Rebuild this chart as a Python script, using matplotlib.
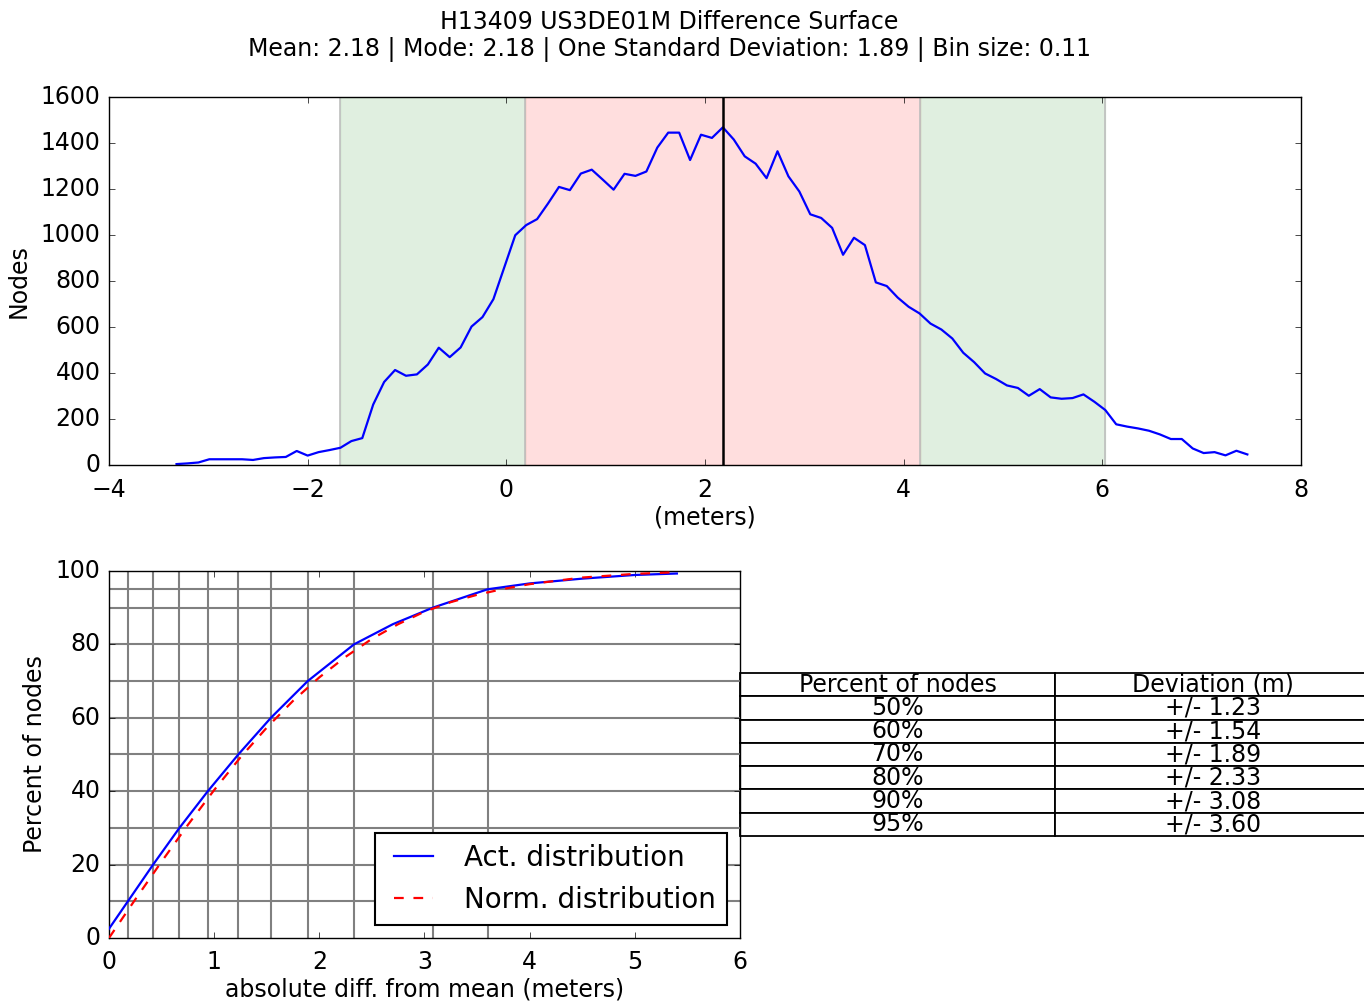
import numpy as np
import matplotlib
matplotlib.use("Agg")
import matplotlib.pyplot as plt

plt.style.use("classic")

# histogram of the difference surface (node counts per 0.11 m bin)
bin_start = -3.32
bin_size = 0.11
node_counts = [4, 7, 11, 25, 25, 25, 25, 22, 30, 33, 35, 61, 41, 56, 65, 75,
               104, 117, 263, 361, 413, 388, 394, 437, 510, 469, 511, 602, 643,
               721, 860, 999,
               1043, 1069, 1137, 1209, 1195, 1267, 1284, 1241, 1197, 1266, 1257,
               1276, 1380, 1445, 1445, 1326, 1436, 1422, 1468, 1415, 1342, 1310,
               1247, 1364, 1255, 1189, 1090, 1074, 1031, 914, 988, 956, 794, 778,
               728, 688, 659,
               615, 589, 550, 488, 447, 398, 374, 346, 335, 301, 330, 294, 288,
               291, 307, 275, 239, 177, 167, 159, 149, 133, 113, 113, 72, 52, 56,
               42, 62, 46]
mean = 2.18
mode = 2.18
std = 1.89
inner_band = (0.19, 4.16)
outer_band = (-1.67, 6.03)

# cumulative percent of nodes vs absolute deviation from mean
act_dev = [0, 0.18, 0.42, 0.67, 0.94, 1.23, 1.54, 1.89, 2.33, 2.7, 3.08, 3.60,
           4.0, 4.5, 5.0, 5.4]
act_pct = [2.5, 10, 20, 30, 40, 50, 60, 70, 80, 85.5, 90, 95,
           96.6, 97.9, 98.9, 99.3]
norm_dev = [0, 0.1, 0.25, 0.5, 0.75, 1.0, 1.25, 1.5, 1.75, 2.0, 2.25, 2.5,
            2.75, 3.0, 3.25, 3.5, 3.75, 4.0, 4.5, 5.0, 5.35]
norm_pct = [0, 4.2, 10.5, 20.8, 30.8, 40.3, 49.2, 57.3, 64.6, 71.0, 76.6, 81.5,
            85.5, 88.9, 91.5, 93.5, 95.1, 96.4, 98.2, 99.2, 99.6]

percent_levels = [50, 60, 70, 80, 90, 95]
deviation_levels = [1.23, 1.54, 1.89, 2.33, 3.08, 3.60]
grid_pct = [10, 20, 30, 40, 50, 60, 70, 80, 90, 95]
grid_dev = [0.18, 0.42, 0.67, 0.94, 1.23, 1.54, 1.89, 2.33, 3.08, 3.60]

fs = 17

fig = plt.figure(figsize=(13.64, 10.05), dpi=100, facecolor="white")

fig.suptitle("H13409 US3DE01M Difference Surface\n"
             "Mean: %.2f | Mode: %.2f | One Standard Deviation: %.2f | Bin size: %.2f"
             % (mean, mode, std, bin_size),
             x=0.4908, y=0.990, va="top", fontsize=fs, linespacing=1.15)

# ---- top: histogram line with std bands
ax1 = fig.add_axes([0.0799, 0.5373, 0.8739, 0.3662])
x = bin_start + bin_size * np.arange(len(node_counts))
ax1.axvspan(outer_band[0], inner_band[0], color="g", alpha=0.12, lw=1)
ax1.axvspan(inner_band[1], outer_band[1], color="g", alpha=0.12, lw=1)
ax1.axvspan(inner_band[0], inner_band[1], color="r", alpha=0.13, lw=1)
for edge in (outer_band[0], inner_band[0], inner_band[1], outer_band[1]):
    ax1.axvline(edge, color="0.75", lw=1.2)
ax1.plot(x, node_counts, color="b", lw=1.6)
ax1.axvline(mean, color="k", lw=1.8)
ax1.set_xlim(-4, 8)
ax1.set_ylim(0, 1600)
ax1.set_xticks(range(-4, 9, 2))
ax1.set_yticks(range(0, 1601, 200))
ax1.tick_params(labelsize=fs)
ax1.tick_params(axis="x", pad=9)
ax1.tick_params(axis="y", pad=6)
ax1.set_ylabel("Nodes", fontsize=fs, labelpad=7)
ax1.set_xlabel("(meters)", fontsize=fs, labelpad=3)

# ---- bottom: cumulative distributions
ax2 = fig.add_axes([0.0799, 0.0667, 0.4626, 0.3652])
for p in grid_pct:
    ax2.axhline(p, color="0.5", lw=1.5, zorder=1)
for d in grid_dev:
    ax2.axvline(d, color="0.5", lw=1.5, zorder=1)
ax2.plot(act_dev, act_pct, color="b", lw=1.6, label="Act. distribution", zorder=3)
ax2.plot(norm_dev, norm_pct, color="r", ls=(0, (7, 7)), lw=1.6,
         label="Norm. distribution", zorder=3)
ax2.set_xlim(0, 6)
ax2.set_ylim(0, 100)
ax2.set_xticks(range(0, 7))
ax2.set_yticks(range(0, 101, 20))
ax2.tick_params(labelsize=fs)
ax2.tick_params(axis="x", pad=9)
ax2.tick_params(axis="y", pad=6)
ax2.set_xlabel("absolute diff. from mean (meters)", fontsize=fs, labelpad=2)
ax2.set_ylabel("Percent of nodes", fontsize=fs, labelpad=6)
leg = ax2.legend(loc="lower right", fontsize=20, numpoints=2,
                 borderaxespad=0, bbox_to_anchor=(0.979, 0.035))
leg.get_frame().set_linewidth(1.5)

# ---- table of deviation per percentage
cells = [["%d%%" % p, "+/- %.2f" % d] for p, d in zip(percent_levels, deviation_levels)]
tbl = ax2.table(cellText=cells, colLabels=["Percent of nodes", "Deviation (m)"],
                cellLoc="center", bbox=[1.0, 0.278, 1.0, 0.444])
tbl.auto_set_font_size(False)
tbl.set_fontsize(fs)
for cell in tbl.get_celld().values():
    cell.set_linewidth(1.3)

fig.savefig("out.png", dpi=100, facecolor="white")
